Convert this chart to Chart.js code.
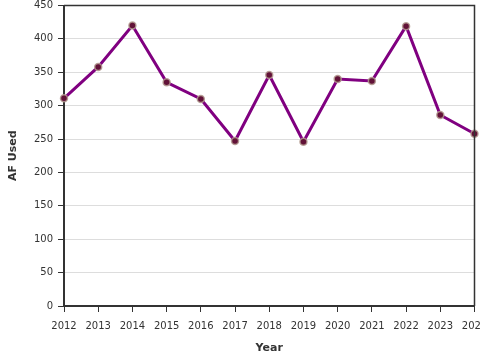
<!DOCTYPE html>
<html>
<head>
<meta charset="utf-8">
<script src="https://cdn.jsdelivr.net/npm/chart.js@4/dist/chart.umd.min.js"></script>
<style>
  html, body { margin: 0; padding: 0; overflow: hidden; background: #fff; }
  #wrap { width: 480px; height: 360px; }
</style>
</head>
<body>
<div id="wrap"><canvas id="chart"></canvas></div>
<script>
var years = ['2012', '2013', '2014', '2015', '2016', '2017', '2018', '2019', '2020', '2021', '2022', '2023', '2024'];
var afUsed = [311, 358, 420, 335, 310, 247, 346, 246, 340, 337, 419, 286, 258];

// thin frame on the top and right of the plot area
var frame = {
    id: 'frame',
    afterDraw: function (chart) {
        var a = chart.chartArea;
        var ctx = chart.ctx;
        ctx.save();
        ctx.strokeStyle = '#333';
        ctx.lineWidth = 1.5;
        ctx.beginPath();
        ctx.moveTo(a.left, a.top);
        ctx.lineTo(a.right, a.top);
        ctx.lineTo(a.right, a.bottom);
        ctx.stroke();
        ctx.restore();
    }
};

Chart.defaults.font.family = 'DejaVu Sans';
Chart.defaults.color = '#333';

var ctx = document.getElementById('chart').getContext('2d');
var myChart = new Chart(ctx, {
    type: 'line',
    data: {
        labels: years,
        datasets: [{
            label: 'AF Used',
            data: afUsed,
            borderColor: '#800080',
            borderWidth: 3,
            tension: 0,
            pointRadius: 3.5,
            pointBackgroundColor: '#621238',
            pointBorderColor: 'rgba(180,155,145,0.85)',
            pointBorderWidth: 1.5
        }]
    },
    options: {
        responsive: true,
        maintainAspectRatio: false,
        animation: false,
        layout: { padding: { top: 0, left: 0, right: 5, bottom: 0 } },
        plugins: {
            legend: { display: false },
            tooltip: { enabled: false }
        },
        scales: {
            x: {
                offset: false,
                border: { color: '#333', width: 2 },
                grid: { drawOnChartArea: false, tickColor: '#333', tickLength: 6, tickWidth: 1 },
                ticks: { font: { size: 10 }, maxRotation: 0, autoSkip: false, padding: 8 },
                title: { display: true, text: 'Year', font: { size: 11, weight: 'bold' }, padding: { top: 0, bottom: 5 } },
                afterFit: function (scale) {
                    scale.height = 54;
                    scale.paddingLeft = 0;
                    scale.paddingRight = 0;
                }
            },
            y: {
                min: 0,
                max: 450,
                border: { color: '#333', width: 2 },
                grid: { color: '#ddd', tickColor: '#333', tickLength: 6 },
                ticks: { stepSize: 50, font: { size: 10 }, padding: 5 },
                title: { display: true, text: 'AF Used', font: { size: 11, weight: 'bold' }, padding: { top: 7, bottom: 0 } },
                afterFit: function (scale) {
                    scale.width = 64;
                    scale.paddingTop = 5;
                    scale.paddingBottom = 0;
                }
            }
        }
    },
    plugins: [frame]
});
</script>
</body>
</html>
